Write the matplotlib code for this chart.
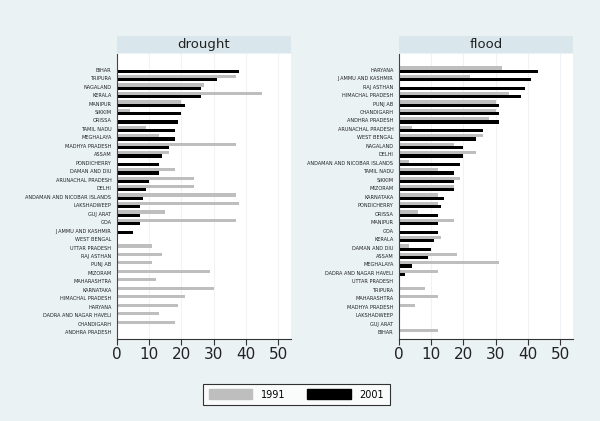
import matplotlib
matplotlib.use("Agg")
import matplotlib.pyplot as plt
from matplotlib.patches import Patch
import numpy as np

# drought panel
drought_states = ["BIHAR", "TRIPURA", "NAGALAND", "KERALA", "MANIPUR", "SIKKIM", "ORISSA",
                  "TAMIL NADU", "MEGHALAYA", "MADHYA PRADESH", "ASSAM", "PONDICHERRY",
                  "DAMAN AND DIU", "ARUNACHAL PRADESH", "DELHI", "ANDAMAN AND NICOBAR ISLANDS",
                  "LAKSHADWEEP", "GUJ ARAT", "GOA", "J AMMU AND KASHMIR", "WEST BENGAL",
                  "UTTAR PRADESH", "RAJ ASTHAN", "PUNJ AB", "MIZORAM", "MAHARASHTRA",
                  "KARNATAKA", "HIMACHAL PRADESH", "HARYANA", "DADRA AND NAGAR HAVELI",
                  "CHANDIGARH", "ANDHRA PRADESH"]
drought_1991 = [0, 37, 27, 45, 20, 4, 0, 9, 13, 37, 16, 0, 18, 24, 24, 37,
                38, 15, 37, 0, 0, 11, 14, 11, 29, 12, 30, 21, 19, 13, 18, 0]
drought_2001 = [38, 31, 26, 26, 21, 20, 19, 18, 18, 16, 14, 13, 13, 10, 9, 8,
                7, 7, 7, 5, 0, 0, 0, 0, 0, 0, 0, 0, 0, 0, 0, 0]

# flood panel
flood_states = ["HARYANA", "J AMMU AND KASHMIR", "RAJ ASTHAN", "HIMACHAL PRADESH", "PUNJ AB",
                "CHANDIGARH", "ANDHRA PRADESH", "ARUNACHAL PRADESH", "WEST BENGAL", "NAGALAND",
                "DELHI", "ANDAMAN AND NICOBAR ISLANDS", "TAMIL NADU", "SIKKIM", "MIZORAM",
                "KARNATAKA", "PONDICHERRY", "ORISSA", "MANIPUR", "GOA", "KERALA",
                "DAMAN AND DIU", "ASSAM", "MEGHALAYA", "DADRA AND NAGAR HAVELI",
                "UTTAR PRADESH", "TRIPURA", "MAHARASHTRA", "MADHYA PRADESH", "LAKSHADWEEP",
                "GUJ ARAT", "BIHAR"]
flood_1991 = [32, 22, 0, 34, 30, 30, 28, 4, 26, 17, 24, 3, 12, 19, 17, 12,
              12, 6, 17, 0, 13, 3, 18, 31, 12, 0, 8, 12, 5, 0, 0, 12]
flood_2001 = [43, 41, 39, 38, 31, 31, 31, 26, 24, 20, 20, 19, 17, 17, 17, 14,
              13, 12, 12, 12, 11, 10, 9, 4, 2, 0, 0, 0, 0, 0, 0, 0]

xticks = [0, 10, 20, 30, 40, 50]

BG = "#EAF2F3"
HEAD = "#D9E6EB"
GRAY = "#BEBEBE"
W, H = 600, 421

fig = plt.figure(figsize=(6, 4.21), dpi=100)
fig.patch.set_facecolor(BG)


def panel(x0, title, states, v91, v01):
    x1 = x0 + 174
    ax = fig.add_axes([x0 / W, (H - 339) / H, (x1 - x0) / W, (339 - 54) / H])
    n = len(states)
    y = np.arange(n)
    h = 0.38
    ax.barh(y - h / 2, v91, height=h, color=GRAY, zorder=2)
    ax.barh(y + h / 2, v01, height=h, color="black", zorder=2)
    ax.set_ylim(n - 1 + 0.8, -1.85)
    ax.set_xlim(0, 54)
    ax.set_yticks(y)
    ax.set_yticklabels(states, fontsize=3.6, color="#222222")
    ax.tick_params(axis="y", length=0, pad=4)
    ax.set_xticks(xticks)
    ax.tick_params(axis="x", labelsize=11, length=4, width=0.8, color="#333333",
                   labelcolor="#222222", pad=2)
    ax.grid(axis="x", color="#EEF3F5", linewidth=0.8, zorder=0)
    for s in ["top", "right"]:
        ax.spines[s].set_visible(False)
    ax.spines["left"].set_color("#444444")
    ax.spines["bottom"].set_color("#333333")
    ax.set_facecolor("white")
    # header strip
    hx = fig.add_axes([x0 / W, (H - 53) / H, (x1 - x0) / W, 17 / H])
    hx.set_facecolor(HEAD)
    hx.set_xticks([])
    hx.set_yticks([])
    for s in hx.spines.values():
        s.set_visible(False)
    hx.text(0.5, 0.5, title, ha="center", va="center", fontsize=9.5, color="#222222")
    return ax


panel(117, "drought", drought_states, drought_1991, drought_2001)
panel(399, "flood", flood_states, flood_1991, flood_2001)

handles = [Patch(facecolor=GRAY, edgecolor=GRAY, label="1991"),
           Patch(facecolor="black", edgecolor="black", label="2001")]
leg = fig.legend(handles=handles, loc="center", bbox_to_anchor=(296.5 / W, (H - 394.5) / H),
                 ncol=2, fontsize=7, frameon=True, fancybox=False, handlelength=4.5,
                 handleheight=1.15, columnspacing=2.2, handletextpad=0.9, borderpad=0.6,
                 borderaxespad=0)
leg.get_frame().set_edgecolor("black")
leg.get_frame().set_linewidth(0.8)
leg.get_frame().set_facecolor("white")

fig.savefig("out.png", dpi=100, facecolor=BG)
